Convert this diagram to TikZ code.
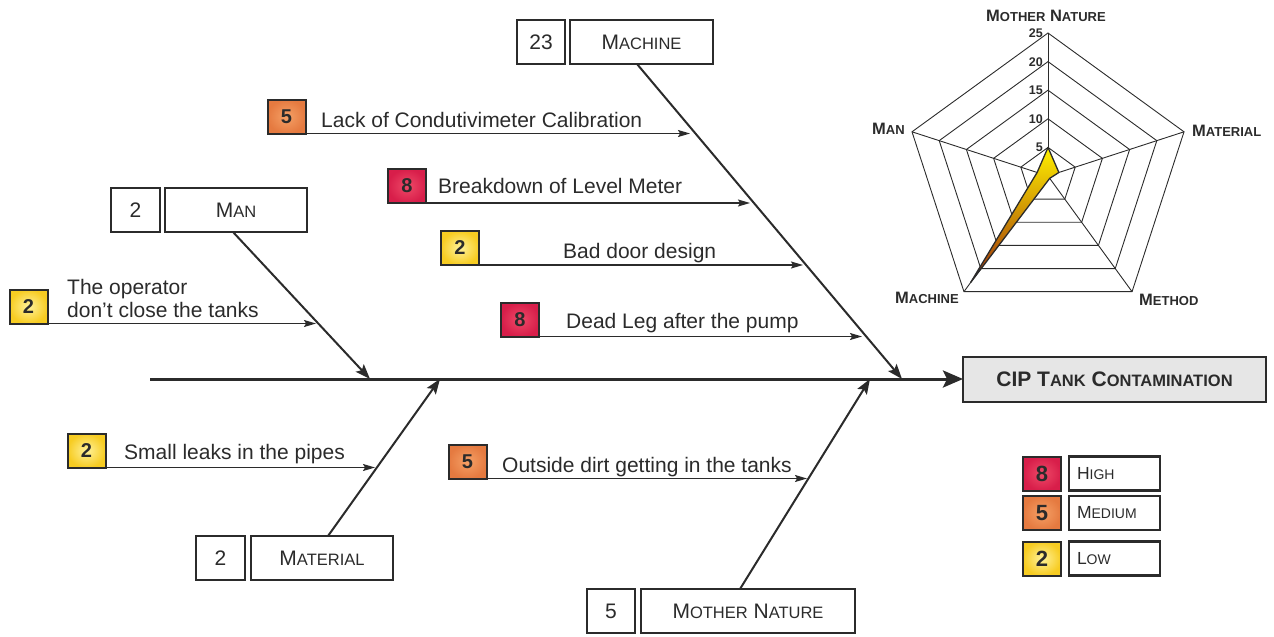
\documentclass[tikz,border=0pt]{standalone}
\usepackage{fontspec}
\setmainfont{Liberation Sans}
\usetikzlibrary{arrows.meta,calc}

\definecolor{ink}{HTML}{2B2B2B}
\definecolor{headfill}{HTML}{E6E6E6}
\definecolor{hiIn}{HTML}{EE4A68}
\definecolor{hiOut}{HTML}{D81E4A}
\definecolor{mdIn}{HTML}{F5A066}
\definecolor{mdOut}{HTML}{E57A40}
\definecolor{loIn}{HTML}{FFF29A}
\definecolor{loOut}{HTML}{F7CC22}
\definecolor{dataTop}{HTML}{FFF000}
\definecolor{dataMid}{HTML}{F08C1C}
\definecolor{dataBot}{HTML}{9A2C0A}

% fake small capitals: first letter at the running size, the rest smaller
\def\sccsize{16.5}
\newcommand\smallcap[2]{#1{\fontsize{\sccsize}{\sccsize}\selectfont #2}}

\begin{document}
\begin{tikzpicture}[x=1pt,y=-1pt,
  box/.style={draw=ink, line width=2.2pt, fill=white, inner sep=0pt, outer sep=0pt, text=ink},
  numbox/.style={box, minimum height=44pt, font=\fontsize{21}{21}\selectfont},
  catbox/.style={box, minimum height=44pt, font=\fontsize{21}{21}\selectfont\def\sccsize{16.5}},
  badge/.style={draw=ink, line width=2pt, inner sep=0pt, outer sep=0pt,
    minimum width=38pt, minimum height=34pt, text=ink, font=\bfseries\fontsize{20}{20}\selectfont},
  hi/.style={badge, inner color=hiIn, outer color=hiOut},
  md/.style={badge, inner color=mdIn, outer color=mdOut},
  lo/.style={badge, inner color=loIn, outer color=loOut},
  keybadge/.style={font=\bfseries\fontsize{22}{22}\selectfont},
  keybox/.style={box, minimum height=34pt, text width=75pt, inner xsep=8pt, align=left,
    font=\fontsize{17.5}{17.5}\selectfont\def\sccsize{14}},
  ctext/.style={anchor=base west, inner sep=0pt, text=ink, font=\fontsize{21}{21}\selectfont},
  cause/.style={draw=ink, line width=1.3pt, -{Stealth[length=12pt,width=7pt,inset=2pt]}},
  bone/.style={draw=ink, line width=2pt, -{Stealth[length=15pt,width=11pt,inset=3pt]}},
  spine/.style={draw=ink, line width=3pt, -{Stealth[length=20pt,width=17pt,inset=4pt]}},
  grid/.style={draw=ink, line width=0.9pt},
  axlab/.style={inner sep=0pt, text=ink, font=\bfseries\fontsize{16.5}{16.5}\selectfont\def\sccsize{13}},
  ringnum/.style={anchor=base east, inner sep=0pt, text=ink, font=\bfseries\fontsize{12.5}{12.5}\selectfont},
]
\useasboundingbox (0,0) rectangle (1274,637);

% ---------- effect ----------
\node[box, fill=headfill, minimum width=303pt, minimum height=45pt,
      font=\bfseries\fontsize{21}{21}\selectfont\def\sccsize{16.5}]
  (head) at (1114.5,379.5) {CIP \smallcap{T}{ANK} \smallcap{C}{ONTAMINATION}};
\coordinate (tail) at (150,379);
\draw[spine] (tail) -- (tail -| head.west);

% ---------- categories ----------
\node[numbox, minimum width=48pt]  (macN) at (541,42) {23};
\node[catbox, minimum width=143pt] (macL) at (641.5,42) {\smallcap{M}{ACHINE}};
\node[numbox, minimum width=49pt]  (manN) at (135.5,210) {2};
\node[catbox, minimum width=142pt] (manL) at (236,210) {\smallcap{M}{AN}};
\node[numbox, minimum width=49pt]  (matN) at (220.5,558) {2};
\node[catbox, minimum width=142pt] (matL) at (322,558) {\smallcap{M}{ATERIAL}};
\node[numbox, minimum width=48pt]  (natN) at (611,611) {5};
\node[catbox, minimum width=214pt] (natL) at (748,611) {\smallcap{M}{OTHER} \smallcap{N}{ATURE}};

% bone ends on the spine
\coordinate (macT) at (902,379);
\coordinate (manT) at (370,379);
\coordinate (matT) at (440,379);
\coordinate (natT) at (870,379);
\draw[bone] ([xshift=-4.5pt]macL.south) -- (macT);
\draw[bone] ([xshift=-3pt]manL.south) -- (manT);
\draw[bone] ([xshift=6pt]matL.north) -- (matT);
\draw[bone] ([xshift=-8pt]natL.north) -- (natT);

% ---------- causes ----------
\node[md] (c1) at (286.5,116.5) {5};
\node[hi] (c2) at (407,186) {8};
\node[lo] (c3) at (460,248) {2};
\node[hi] (c4) at (520,319.5) {8};
\node[lo] (c5) at (28.5,306.5) {2};
\node[lo] (c6) at (86.5,450.5) {2};
\node[md] (c7) at (467.5,461.5) {5};

\coordinate (t1) at (690,0);
\coordinate (t2) at (750,0);
\coordinate (t3) at (803,0);
\coordinate (t4) at (862,0);
\coordinate (t5) at (316,0);
\coordinate (t6) at (375,0);
\coordinate (t7) at (807,0);
\foreach \i in {1,...,7}
  \draw[cause] (c\i.south east) -- (c\i.south east -| t\i);

\node[ctext] (l1) at (321,127) {Lack of Condutivimeter Calibration};
\node[ctext] (l2) at (438,193) {Breakdown of Level Meter};
\node[ctext] (l3) at (563,258) {Bad door design};
\node[ctext] (l4) at (566,328) {Dead Leg after the pump};
\node[ctext, anchor=north west, align=left, font=\fontsize{21}{23.5}\selectfont]
  (l5) at (67,279) {The operator\\don’t close the tanks};
\node[ctext] (l6) at (124,459) {Small leaks in the pipes};
\node[ctext] (l7) at (502,472) {Outside dirt getting in the tanks};

% ---------- priority key ----------
\node[hi, keybadge] (kh) at (1042,473.5) {8};
\node[md, keybadge] (km) at (1042,513) {5};
\node[lo, keybadge] (kl) at (1042,558.5) {2};
\node[keybox] (khl) at (1114.5,473.5) {\smallcap{H}{IGH}};
\node[keybox] (kml) at (1114.5,513) {\smallcap{M}{EDIUM}};
\node[keybox] (kll) at (1114.5,558.5) {\smallcap{L}{OW}};

% ---------- radar chart ----------
\begin{scope}[shift={(1048,176)}]
  \foreach \r in {28.6,57.2,85.8,114.4,143}
    \draw[grid] (270:\r) -- (342:\r) -- (54:\r) -- (126:\r) -- (198:\r) -- cycle;
  \coordinate (rc) at (0,0);
  \foreach \a/\n in {270/vN,342/vMa,54/vMe,126/vMc,198/vMn}
    \coordinate (\n) at (\a:143);
  \foreach \n in {vN,vMa,vMe,vMc,vMn}
    \draw[grid] (rc) -- (\n);
  \shade[draw=ink, line width=1.3pt, line join=round,
         top color=dataTop, middle color=dataMid, bottom color=dataBot]
    (270:28.6) -- (342:11.44) -- (54:2.9) -- (126:131.6) -- (198:11.44) -- cycle;
  \foreach \v/\r in {5/28.6,10/57.2,15/85.8,20/114.4,25/143}
    \node[ringnum] at (-5,-\r+4.5) {\v};
\end{scope}
\node[axlab, anchor=base] (axN) at (1046,21) {\smallcap{M}{OTHER} \smallcap{N}{ATURE}};
\node[axlab, anchor=base west] (axMn) at (872,134) {\smallcap{M}{AN}};
\node[axlab, anchor=base west] (axMa) at (1192,136) {\smallcap{M}{ATERIAL}};
\node[axlab, anchor=base west] (axMc) at (895,303) {\smallcap{M}{ACHINE}};
\node[axlab, anchor=base west] (axMe) at (1139,305) {\smallcap{M}{ETHOD}};
\end{tikzpicture}
\end{document}
